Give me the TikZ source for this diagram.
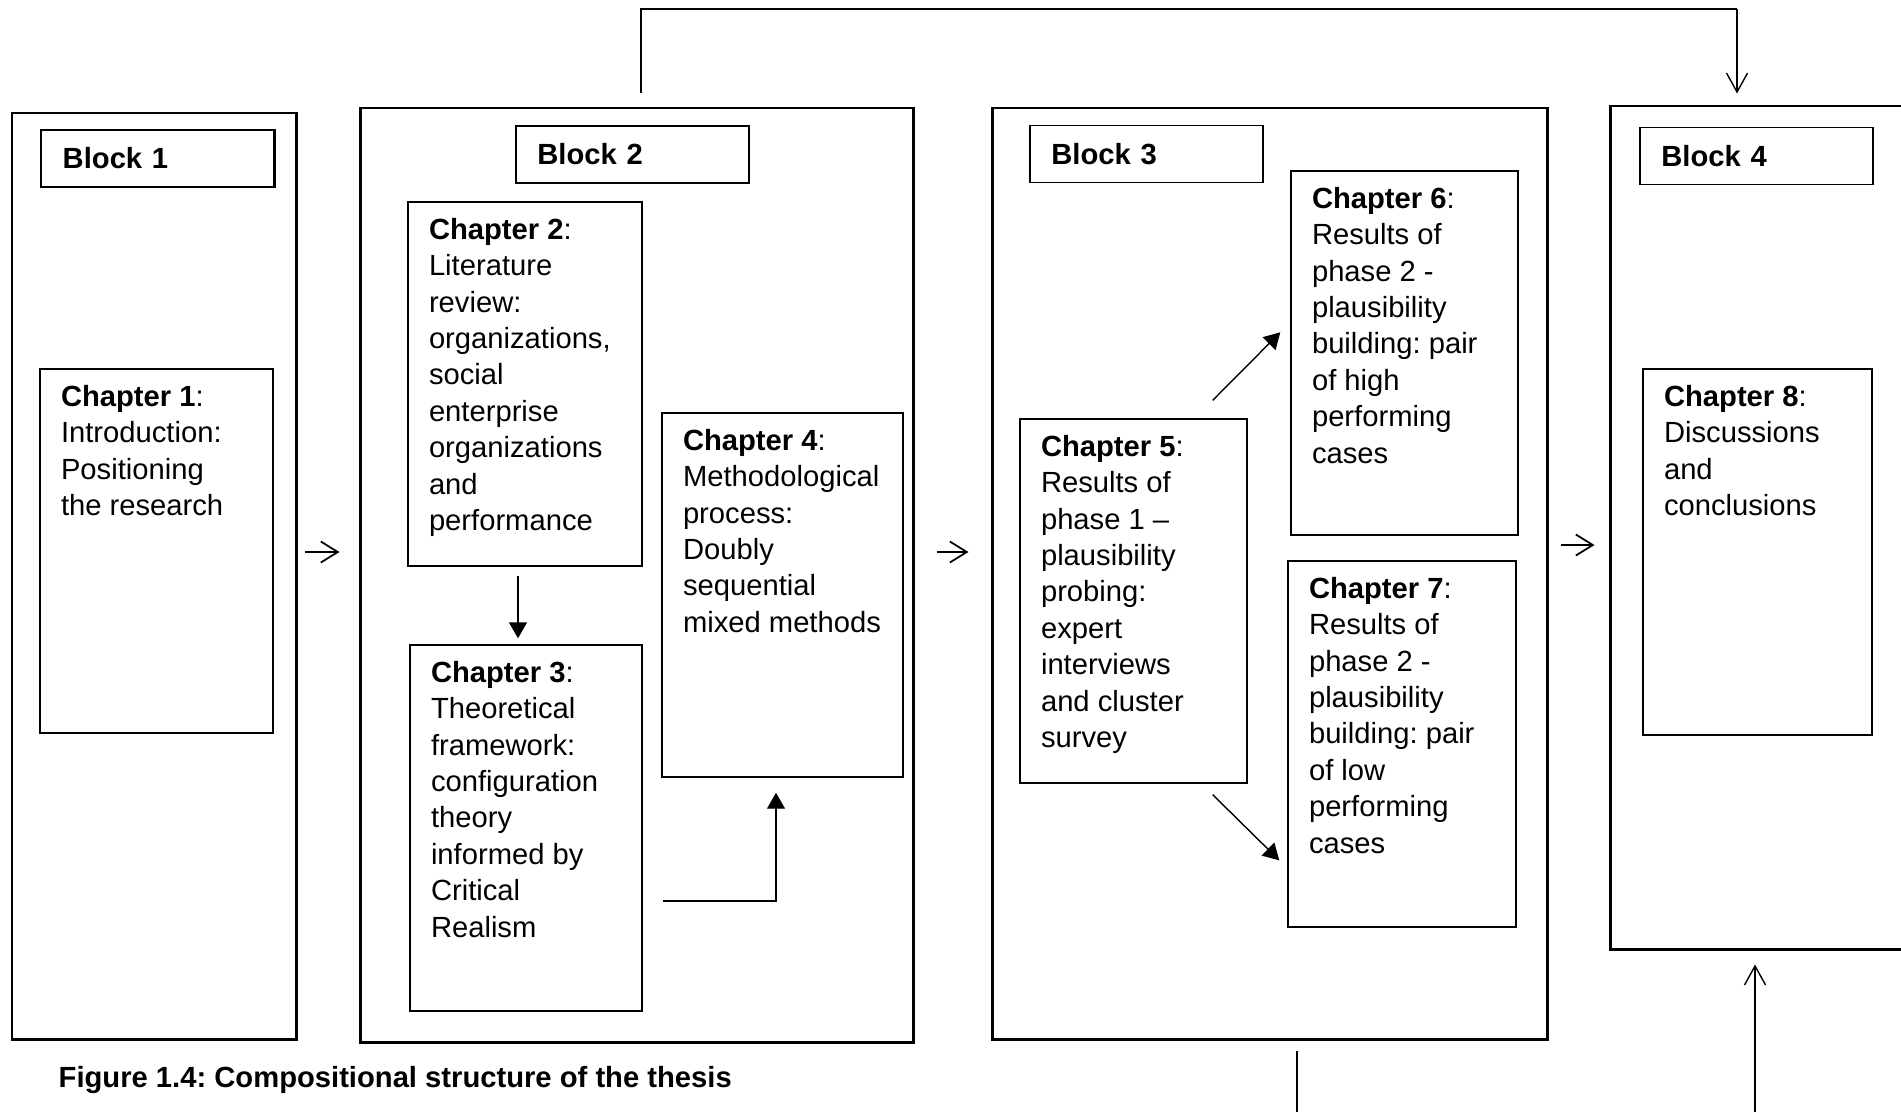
\documentclass[tikz,border=0pt]{standalone}
\usepackage{fontspec}
\setmainfont{Liberation Sans}
\usetikzlibrary{arrows.meta,fit}
\frenchspacing

\begin{document}
\begin{tikzpicture}[
    x=0.01cm, y=-0.01cm,
    every node/.style={font=\fontsize{8.3pt}{10.36pt}\selectfont},
    block/.style={rectangle,draw,line width=0.85pt,inner sep=0pt},
    blockname/.style={rectangle,draw,line width=0.45pt,anchor=west,
      minimum height=0.57cm,text width=1.9cm,inner xsep=0.215cm,align=left,
      font=\fontsize{8.3pt}{10.36pt}\selectfont\bfseries},
    chapbox/.style={rectangle,draw,line width=0.4pt,inner sep=0pt},
    chaptext/.style={anchor=north west,align=left,inner sep=0pt},
    flow/.style={-{Triangle[length=1.6mm,width=1.8mm]},line width=0.4pt},
    link/.style={-{Straight Barb[length=1.9mm,width=2.1mm]},line width=0.4pt},
    gap/.style={-{Straight Barb[length=1.7mm,width=2.1mm]},line width=0.5pt}
  ]
    \useasboundingbox (0,0) rectangle (1901,1112);

    % the four blocks
    \node[block,fit={(12,113) (296,1039)}] (blk1) {};
    \node[block,fit={(360,108) (913,1042)}] (blk2) {};
    \node[block,fit={(992,108) (1547,1039)}] (blk3) {};
    \node[block,fit={(1610,106) (1906,949)}] (blk4) {};

    \node[blockname,line width=0.7pt] (blk1name) at (40,158.5) {Block 1};
    \node[blockname] (blk2name) at (515,154.5) {Block 2};
    \node[blockname] (blk3name) at (1029,154) {Block 3};
    \node[blockname] (blk4name) at (1639,156) {Block 4};

    % chapter boxes
    \node[chapbox,fit={(40,369) (273,733)}] (ch1) {};
    \node[chapbox,fit={(408,202) (642,566)}] (ch2) {};
    \node[chapbox,fit={(410,645) (642,1011)}] (ch3) {};
    \node[chapbox,fit={(662,413) (903,777)}] (ch4) {};
    \node[chapbox,fit={(1020,419) (1247,783)}] (ch5) {};
    \node[chapbox,fit={(1291,171) (1518,535)}] (ch6) {};
    \node[chapbox,fit={(1288,561) (1516,927)}] (ch7) {};
    \node[chapbox,fit={(1643,369) (1872,735)}] (ch8) {};

    \node[chaptext] (ch1txt) at ([shift={(21,16)}]ch1.north west)
      {\textbf{Chapter 1}:\\Introduction:\\Positioning\\the research};
    \node[chaptext] (ch2txt) at ([shift={(21,16)}]ch2.north west)
      {\textbf{Chapter 2}:\\Literature\\review:\\organizations,\\social\\enterprise\\organizations\\and\\performance};
    \node[chaptext] (ch3txt) at ([shift={(21,16)}]ch3.north west)
      {\textbf{Chapter 3}:\\Theoretical\\framework:\\configuration\\theory\\informed by\\Critical\\Realism};
    \node[chaptext] (ch4txt) at ([shift={(21,16)}]ch4.north west)
      {\textbf{Chapter 4}:\\Methodological\\process:\\Doubly\\sequential\\mixed methods};
    \node[chaptext] (ch5txt) at ([shift={(21,16)}]ch5.north west)
      {\textbf{Chapter 5}:\\Results of\\phase 1 --\\plausibility\\probing:\\expert\\interviews\\and cluster\\survey};
    \node[chaptext] (ch6txt) at ([shift={(21,16)}]ch6.north west)
      {\textbf{Chapter 6}:\\Results of\\phase 2 -\\plausibility\\building: pair\\of high\\performing\\cases};
    \node[chaptext] (ch7txt) at ([shift={(21,16)}]ch7.north west)
      {\textbf{Chapter 7}:\\Results of\\phase 2 -\\plausibility\\building: pair\\of low\\performing\\cases};
    \node[chaptext] (ch8txt) at ([shift={(21,16)}]ch8.north west)
      {\textbf{Chapter 8}:\\Discussions\\and\\conclusions};

    \node[anchor=base west,inner sep=0pt,font=\fontsize{8.3pt}{10.36pt}\selectfont\bfseries]
      (caption) at (58,1087) {Figure 1.4: Compositional structure of the thesis};

    % arrows between blocks
    \coordinate (row1) at (0,552);
    \coordinate (row3) at (0,545);
    \draw[gap,shorten <=0.07cm,shorten >=0.19cm] (blk1.east |- row1) -- (blk2.west |- row1);
    \draw[gap,shorten <=0.22cm,shorten >=0.22cm] (blk2.east |- row1) -- (blk3.west |- row1);
    \draw[gap,shorten <=0.12cm,shorten >=0.14cm] (blk3.east |- row3) -- (blk4.west |- row3);

    % connector over the top
    \coordinate (topl) at (641,9);
    \coordinate (topr) at (1737,9);
    \draw[line width=0.7pt,shorten <=0.13cm] (blk2.north -| topl) -- (topl) -- (topr);
    \draw[link,shorten >=0.11cm] (topr) -- (blk4.north -| topr);

    % lines at the bottom
    \coordinate (bot3) at (1297,1112);
    \coordinate (bot4) at (1755,1112);
    \draw[line width=0.7pt,shorten <=0.1cm] (blk3.south -| bot3) -- (bot3);
    \draw[link,shorten >=0.14cm] (bot4) -- (blk4.south -| bot4);

    % arrows inside blocks
    \coordinate (drop) at (518,0);
    \draw[flow,shorten <=0.09cm,shorten >=0.06cm] (ch2.south -| drop) -- (ch3.north -| drop);
    \coordinate (elbow) at (776,901);
    \draw[flow,shorten <=0.2cm,shorten >=0.15cm] (ch3.east |- elbow) -| (ch4.south -| elbow);
    \draw[flow] ([shift={(-35,-18)}]ch5.north east) -- ([shift={(-10,162)}]ch6.north west);
    \draw[flow] ([shift={(-35,11)}]ch5.south east) -- ([shift={(-8,300)}]ch7.north west);
\end{tikzpicture}
\end{document}
